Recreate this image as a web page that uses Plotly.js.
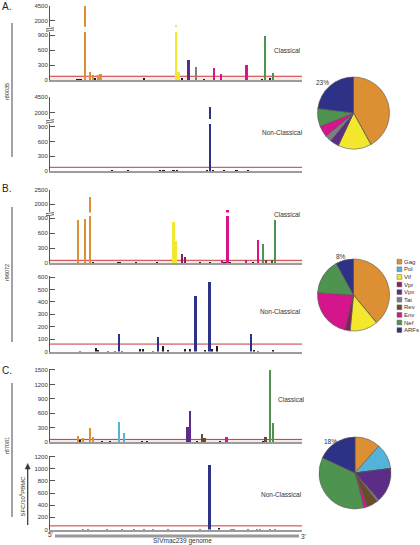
<!DOCTYPE html>
<html><head><meta charset="utf-8">
<script src="https://cdn.plot.ly/plotly-3.0.1.min.js"></script>
<style>html,body{margin:0;padding:0;background:#fff}#chart{width:420px;height:545px}</style>
</head><body><div id="chart"></div>
<script>
// ---------------- DATA ----------------
const genes = ['Gag','Pol','Vif','Vpr','Vpx','Tat','Rev','Env','Nef','ARFs'];
const animals = ['r80035','r96072','r87081'];
const panelLetters = ['A.','B.','C.'];
const thresholds = [75, 60, 60];

// A. r80035 - Classical
const aClassPos  = [10,10.8,11.6,12.4,14,16,17,18,19,20,24,28,32,36,37.3,40,44,46,48,50,51,52.3,55,57.8,61,62.5,65,68,71,73,75,78,84,85.3,87.2,88.6];
const aClassVal  = [10,15,25,30,4500,153,100,40,100,120,8,8,10,8,35,8,10,8,10,1300,167,45,410,265,15,8,235,120,8,10,8,295,15,885,40,147];
const aClassGene = ['','','','','Gag','Gag','Gag','','Gag','Gag','','','','','','','','','','Vif','Vif','','Vpx','Tat','','','Env','Env','','','','Env','','Nef','','Nef'];
// A. r80035 - Non-Classical
const aNonPos  = [11,24.6,26,31,32,43.7,45,47.6,49,50.4,53.6,56.3,62.2,63.4,64.7,69,73,74,76,78.6,82.5,88];
const aNonVal  = [10,15,10,12,8,20,12,10,12,15,10,8,20,2900,25,20,10,12,10,12,8,10];
const aNonGene = ['','','','','','','','','','','','','','ARFs','','','','','','','',''];

// B. r96072 - Classical
const bClassPos  = [11.2,12.1,14,16,17,18,19,26.2,27,27.8,31.7,33,34,37.7,39.7,42.5,45.6,49,50,51,52.4,53.6,58.3,59.5,61.5,63.5,64.7,68.3,69.2,70.4,71.5,73,74.6,75.8,77.8,79.4,80.6,82.5,84.5,85.7,87,88,89.3];
const bClassVal  = [860,15,885,2250,20,15,12,12,25,20,10,15,20,8,8,20,10,820,440,15,195,120,10,20,15,20,15,65,20,1800,20,15,10,15,75,15,20,467,393,70,15,70,866];
const bClassGene = ['Gag','','Gag','Gag','','','','','','','','','','','','','','Vif','Vif','','Vpr','Vpr','','','','','','Env','','Env','','','','','Env','','','Env','Nef','Rev','','Rev','Nef'];
// B. r96072 - Non-Classical
const bNonPos  = [11.9,18.3,19.1,23,25.8,27.4,28.6,35.7,36.9,40.9,42.9,44.8,46.8,53.6,55.5,57.7,61.5,63.3,64.4,66.3,79.8,80.9,82.5,88.5];
const bNonVal  = [8,30,15,8,8,140,8,20,20,8,118,45,10,20,18,445,15,565,20,45,140,15,8,15];
const bNonGene = ['','','','','','ARFs','','','','','ARFs','','','','','ARFs','','ARFs','','','ARFs','','',''];

// C. r87081 - Classical
const cClassPos  = [11.1,11.9,13.1,15.9,17,20.6,23.8,27.4,29.4,36.5,38.5,46,54.6,55.6,58.3,60.3,61.3,67.5,70,76.6,77.4,84.5,85.5,87.3,88.5];
const cClassVal  = [125,50,88,305,105,35,25,430,190,30,30,15,315,650,30,165,95,25,110,10,10,30,100,1500,400];
const cClassGene = ['Gag','','Gag','Gag','Gag','','','Pol','Pol','','','','Vpx','Vpx','','Rev','Rev','','Env','','','','Rev','Nef','Nef'];
// C. r87081 - Non-Classical
const cNonPos  = [13,15,22.6,28.6,33.3,37.3,40.9,46.8,59.5,63.3,67,72,73,78.6,82,83.3,87.3,89.3];
const cNonVal  = [8,8,8,10,10,10,10,6,12,1070,25,15,12,8,10,8,10,12];
const cNonGene = ['','','','','','','','','','ARFs','','','','','','','',''];

// Pie shares (same order as genes)
const pieA = [42,0,15,0,4,3,0,5,8,23];
const pieB = [39,0,12.5,2.5,0,0,0,22,16,8];
const pieC = [11.5,11.5,0,0,15.5,1,5,1.5,36,18];

// tick values
const upperTicksA = [2000,4500];
const upperTicksB = [2000,2500];
const lowerTicks900 = [0,300,600,900];
const ticksBNon = [0,100,200,300,400,500,600];
const ticksCClass = [0,300,600,900,1200,1500];
const ticksCNon = [0,200,400,600,800,1000,1200];

// ---------------- STYLE ----------------
const geneColors = {Gag:'#DC8F33',Pol:'#55B2D8',Vif:'#F4E82E',Vpr:'#8A1D5C',Vpx:'#5B2D86',Tat:'#7E7E7E',Rev:'#6B4B2C',Env:'#D5158B',Nef:'#4F9351',ARFs:'#2E3287'};
const lowColor = '#1e1e1e';
const FONT = 'Liberation Sans, Arial, sans-serif';
const W = 420, H = 545;
const px = x => x / W;
const py = y => 1 - y / H;
const dom = (top, bottom) => [py(bottom), py(top)];
const xDom = [px(50), px(302)];

const traces = [];
function addBars(pos, val, gene, xa, yas) {
  const colors = gene.map(g => g ? geneColors[g] : lowColor);
  yas.forEach(ya => {
    traces.push({type:'bar', x:pos, y:val, xaxis:xa, yaxis:ya, width:0.9,
      marker:{color:colors, line:{width:0}}, hoverinfo:'skip', showlegend:false});
  });
}
addBars(aClassPos, aClassVal, aClassGene, 'x', ['y','y2']);
addBars(aNonPos, aNonVal, aNonGene, 'x2', ['y3','y4']);
addBars(bClassPos, bClassVal, bClassGene, 'x3', ['y5','y6']);
addBars(bNonPos, bNonVal, bNonGene, 'x4', ['y7']);
addBars(cClassPos, cClassVal, cClassGene, 'x5', ['y8']);
addBars(cNonPos, cNonVal, cNonGene, 'x6', ['y9']);

const pieDefs = [[pieA, 353.5, 113],[pieB, 353.5, 295],[pieC, 355, 473]];
const R = 36;
pieDefs.forEach(([vals, cx, cy]) => {
  traces.push({type:'pie', labels:genes, values:vals, sort:false, direction:'clockwise', rotation:0,
    marker:{colors:genes.map(g=>geneColors[g]), line:{color:'#555', width:0.6}},
    textinfo:'none', hoverinfo:'skip', showlegend:false,
    domain:{x:[px(cx-R), px(cx+R)], y:[py(cy+R), py(cy-R)]}});
});

function xax(anchor){
  return {domain:xDom, range:[0,100], anchor:anchor, showline:true, linecolor:'#9c9c9c', linewidth:2,
    showticklabels:false, ticks:'', showgrid:false, zeroline:false, fixedrange:true};
}
function yax(domain, range, tickvals, anchor){
  return {domain:domain, range:range, tickvals:tickvals, anchor:anchor, showline:true, linecolor:'#555', linewidth:1,
    ticks:'inside', ticklen:5, tickcolor:'#555', tickwidth:1, tickfont:{family:FONT, size:6, color:'#333'},
    showgrid:false, zeroline:false, fixedrange:true};
}

const layout = {
  width:W, height:H, margin:{l:0,r:0,t:0,b:0}, autosize:false, showlegend:false,
  paper_bgcolor:'#fff', plot_bgcolor:'rgba(0,0,0,0)', bargap:0,
  font:{family:FONT, size:7, color:'#333'},
  xaxis: xax('y2'), xaxis2: xax('y4'), xaxis3: xax('y6'),
  xaxis4: xax('y7'), xaxis5: xax('y8'), xaxis6: xax('y9'),
  yaxis:  yax(dom(5.7,26.7), [1000,4500], upperTicksA, 'x'),
  yaxis2: yax(dom(32,80), [0,960], lowerTicks900, 'x'),
  yaxis3: yax(dom(97.3,118.9), [1000,4500], upperTicksA, 'x2'),
  yaxis4: yax(dom(124,171), [0,955], lowerTicks900, 'x2'),
  yaxis5: yax(dom(190,212.4), [1700,2500], upperTicksB, 'x3'),
  yaxis6: yax(dom(216,263.3), [0,946], lowerTicks900, 'x3'),
  yaxis7: yax(dom(276,351.5), [0,610], ticksBNon, 'x4'),
  yaxis8: yax(dom(368.5,442.3), [0,1530], ticksCClass, 'x5'),
  yaxis9: yax(dom(455.5,529.5), [0,1220], ticksCNon, 'x6'),
  shapes:[], annotations:[]
};

// threshold lines + band
const thr = [['x','y2',0,true],['x2','y4',0,false],['x3','y6',1,true],['x4','y7',1,false],['x5','y8',2,true],['x6','y9',2,false]];
thr.forEach(([xa, ya, ai, band]) => {
  const t = thresholds[ai];
  if (band) layout.shapes.push({type:'rect', xref:xa+' domain', yref:ya, x0:0, x1:1, y0:0, y1:t,
    fillcolor:'rgba(236,190,190,0.35)', line:{width:0}, layer:'below'});
  layout.shapes.push({type:'line', xref:xa+' domain', yref:ya, x0:0, x1:1, y0:t, y1:t,
    line:{color:'#C6393B', width:1}, layer:'below'});
});

// axis break marks
[[28.4,30.6],[120.3,122.5],[213.2,215.2]].forEach(([a,b]) => {
  [a,b].forEach(y => layout.shapes.push({type:'line', xref:'paper', yref:'paper',
    x0:px(46), x1:px(54), y0:py(y+0.6), y1:py(y-0.6), line:{color:'#555', width:1}}));
  layout.shapes.push({type:'rect', xref:'paper', yref:'paper', x0:px(48.5), x1:px(51.5), y0:py(b-0.4), y1:py(a+0.4),
    fillcolor:'#fff', line:{width:0}});
});

// animal brackets
[[23,157],[207,342],[383,517]].forEach(([a,b]) => layout.shapes.push({type:'line', xref:'paper', yref:'paper',
  x0:px(12), x1:px(12), y0:py(a), y1:py(b), line:{color:'#a3a3a3', width:2}}));

// genome line
layout.shapes.push({type:'line', xref:'paper', yref:'paper', x0:px(55), x1:px(299), y0:py(536), y1:py(536),
  line:{color:'#9a9a9a', width:3}});

// y-title arrow (line + head)
layout.shapes.push({type:'line', xref:'paper', yref:'paper', x0:px(27.7), x1:px(27.7), y0:py(525), y1:py(467),
  line:{color:'#333', width:1.2}});
layout.shapes.push({type:'path', xref:'paper', yref:'paper',
  path:`M ${px(25.2)} ${py(469)} L ${px(30.2)} ${py(469)} L ${px(27.7)} ${py(463.5)} Z`,
  fillcolor:'#333', line:{color:'#333', width:0.5}});

const ann = (x, y, text, o) => layout.annotations.push(Object.assign({xref:'paper', yref:'paper',
  x:px(x), y:py(y), text:text, showarrow:false, xanchor:'center', yanchor:'middle',
  font:{family:FONT, size:6.5, color:'#333'}}, o||{}));

// panel letters & animal labels
[[6],[189],[370]].forEach(([y], i) => ann(0, y, panelLetters[i], {xanchor:'left', font:{family:FONT, size:10, color:'#222'}}));
[92, 273, 446].forEach((y, i) => ann(7, y, animals[i], {textangle:-90, font:{family:FONT, size:5.5, color:'#333'}}));

// Classical / Non-Classical
[[287.5,50],[287.5,214],[291,399]].forEach(([x,y]) => ann(x, y, 'Classical'));
[[282.5,132],[280.5,311],[281,494]].forEach(([x,y]) => ann(x, y, 'Non-Classical'));

// pie percentages (ARFs share)
const arfIdx = genes.indexOf('ARFs');
[[pieA,322.7,82.5],[pieB,340.7,256.7],[pieC,330,441]].forEach(([v,x,y]) => {
  const s = v.reduce((a,b)=>a+b,0);
  ann(x, y, Math.round(v[arfIdx]/s*100) + '%');
});

// legend
genes.forEach((g, i) => {
  const y = 261.7 + i * 7.6;
  layout.shapes.push({type:'rect', xref:'paper', yref:'paper', x0:px(397), x1:px(401.8), y0:py(y+2.4), y1:py(y-2.4),
    fillcolor:geneColors[g], line:{color:'#666', width:0.5}});
  ann(403.2, y, g, {xanchor:'left', borderpad:0, font:{family:FONT, size:6, color:'#333'}});
});

// y title
ann(22.5, 496, 'SFC/10<sup>6</sup>PBMC', {textangle:-90, font:{family:FONT, size:6, color:'#333'}});

// genome labels
ann(50, 534, "5'", {font:{family:FONT, size:6.5, color:'#333'}});
ann(303, 536, "3'", {font:{family:FONT, size:6.5, color:'#333'}});
ann(182, 541, 'SIVmac239 genome', {font:{family:FONT, size:6.5, color:'#333'}});

Plotly.newPlot('chart', traces, layout, {staticPlot:true, displayModeBar:false});
</script></body></html>
